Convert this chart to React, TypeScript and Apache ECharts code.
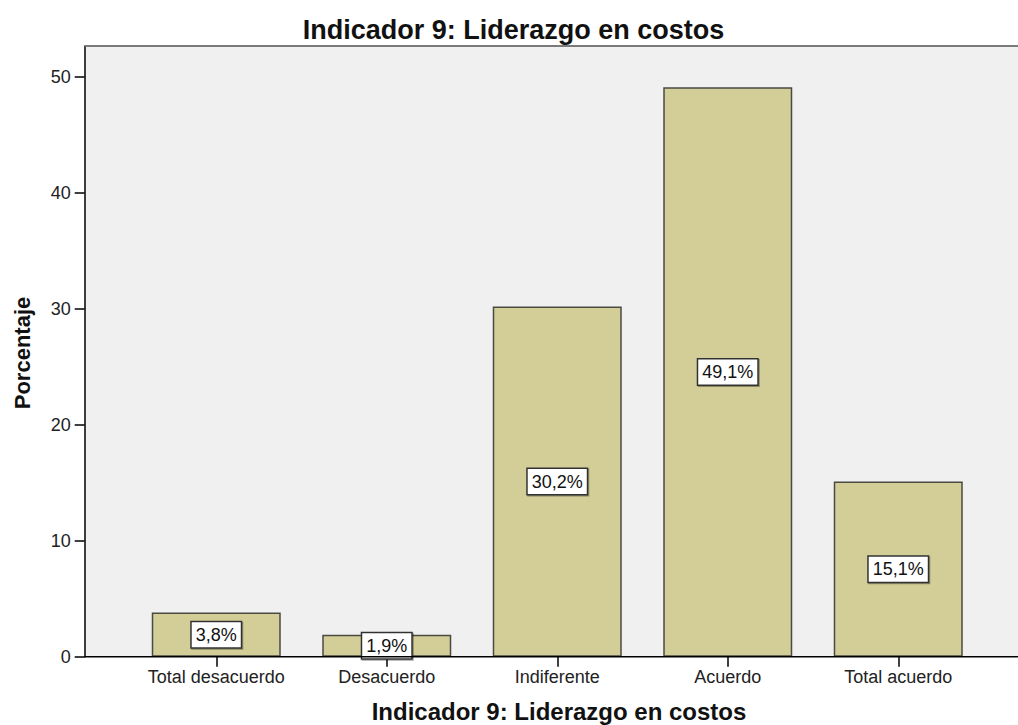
import React, { useEffect, useRef } from "react";
import * as echarts from "echarts";

const categories = ["Total desacuerdo", "Desacuerdo", "Indiferente", "Acuerdo", "Total acuerdo"];
const percentages = [3.8, 1.9, 30.2, 49.1, 15.1];
const yTicks = [0, 10, 20, 30, 40, 50];
const chartTitle = "Indicador 9: Liderazgo en costos";
const xAxisTitle = "Indicador 9: Liderazgo en costos";
const yAxisTitle = "Porcentaje";

const FONT = "'Liberation Sans', Arial, sans-serif";

export default function App() {
  const ref = useRef<HTMLDivElement>(null);
  useEffect(() => {
    if (!ref.current) return;
    const chart = echarts.init(ref.current, undefined, { renderer: "svg" });
    const plotLeft = 85;
    const plotTop = 46;
    const axisY = 656.7;
    chart.setOption({
      animation: false,
      backgroundColor: "#ffffff",
      textStyle: { fontFamily: FONT },
      grid: { left: 131, right: 34.5, top: plotTop, bottom: 725 - axisY, show: false },
      xAxis: {
        type: "category",
        data: categories,
        axisLine: { show: false },
        axisTick: { show: true, alignWithLabel: true, length: 10, lineStyle: { color: "#000", width: 1.5 } },
        axisLabel: { color: "#222", fontSize: 18, fontFamily: FONT, margin: 11, interval: 0 },
        splitLine: { show: false },
      },
      yAxis: {
        type: "value",
        min: 0,
        max: 52.65,
        interval: 10,
        offset: 46.3,
        axisLine: { show: true, lineStyle: { color: "#000", width: 1.5 } },
        axisTick: { show: true, length: 10, lineStyle: { color: "#000", width: 1.5 }, customValues: yTicks },
        axisLabel: { color: "#222", fontSize: 18, fontFamily: FONT, margin: 14, customValues: yTicks },
        splitLine: { show: false },
      },
      graphic: [
        {
          type: "rect",
          z: -10,
          shape: { x: plotLeft, y: plotTop, width: 1018 - plotLeft, height: axisY - plotTop },
          style: { fill: "#F0F0F0" },
          silent: true,
        },
        {
          type: "line",
          z: 100,
          shape: { x1: plotLeft, y1: plotTop, x2: 1018, y2: plotTop },
          style: { stroke: "#7a7a7a", lineWidth: 2 },
          silent: true,
        },
        {
          type: "line",
          z: 100,
          shape: { x1: plotLeft - 0.7, y1: axisY, x2: 1018, y2: axisY },
          style: { stroke: "#000", lineWidth: 1.5 },
          silent: true,
        },
        {
          type: "text",
          x: 513.5,
          y: 29.5,
          style: {
            text: chartTitle,
            fill: "#111",
            font: `bold 27px ${FONT}`,
            textAlign: "center",
            textVerticalAlign: "middle",
          },
        },
        {
          type: "text",
          x: 559,
          y: 711,
          style: {
            text: xAxisTitle,
            fill: "#111",
            font: `bold 24px ${FONT}`,
            textAlign: "center",
            textVerticalAlign: "middle",
          },
        },
        {
          type: "text",
          x: 22,
          y: 353,
          rotation: Math.PI / 2,
          style: {
            text: yAxisTitle,
            fill: "#111",
            font: `bold 22px ${FONT}`,
            textAlign: "center",
            textVerticalAlign: "middle",
          },
        },
      ],
      series: [
        {
          type: "bar",
          data: percentages,
          barWidth: 129,
          itemStyle: { color: "#D3CE97", borderColor: "#4a4a44", borderWidth: 1.5 },
          label: {
            show: true,
            position: "inside",
            formatter: (p: any) => `${String(p.value).replace(".", ",")}%`,
            color: "#111",
            fontSize: 18,
            fontFamily: FONT,
            backgroundColor: "#ffffff",
            borderColor: "#333",
            borderWidth: 1.5,
            padding: [4, 4, 3, 4],
            shadowColor: "rgba(0,0,0,0.35)",
            shadowOffsetX: 1,
            shadowOffsetY: 1,
            shadowBlur: 1,
          },
        },
      ],
    });
    return () => chart.dispose();
  }, []);
  return (
    <div
      ref={ref}
      style={{ position: "fixed", left: 0, top: 0, width: 1018, height: 725, background: "#fff" }}
    />
  );
}
